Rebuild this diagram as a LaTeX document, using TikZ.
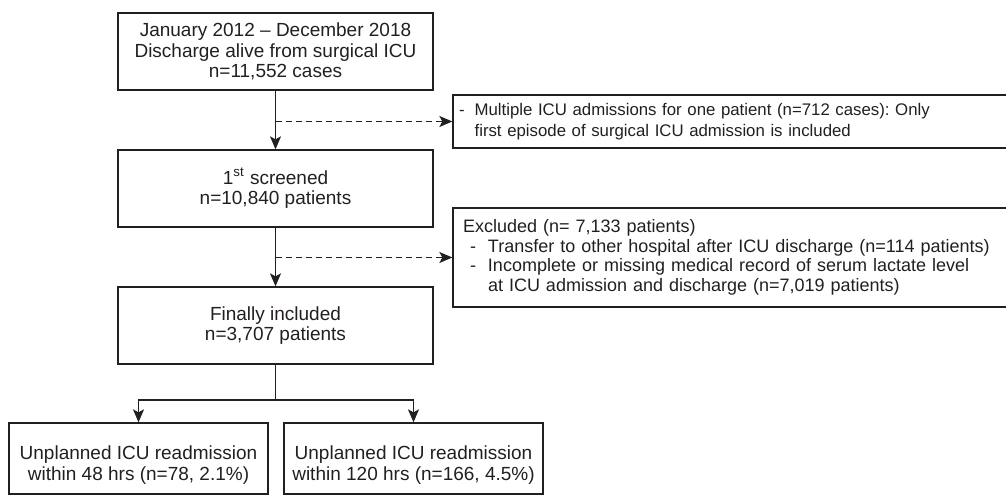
\documentclass[tikz,border=0pt]{standalone}
\usepackage{fontspec}
\setmainfont{Liberation Sans}
\usetikzlibrary{arrows.meta}
\definecolor{inkgray}{HTML}{231F20}
\frenchspacing
\begin{document}
\begin{tikzpicture}[x=0.5pt, y=-0.5pt,
        box/.style={draw=inkgray, line width=0.65pt, text=inkgray, font=\fontsize{9.5}{10.25}\selectfont, align=center, inner sep=0pt},
        sidebox/.style={box, align=left, inner xsep=3pt, text width=272.5pt, font=\fontsize{9}{9.75}\selectfont},
        link/.style={draw=inkgray, line width=0.65pt},
        arr/.style={link, -{Stealth[length=6.5pt, width=5.5pt, inset=1.5pt]}},
        dasharr/.style={arr, dash pattern=on 3pt off 2pt}]
    \useasboundingbox ( 0, 0 ) rectangle ( 1006, 496 );

    % основные блоки
    \node [box, minimum width=157.5pt, minimum height=38.5pt] (start) at ( 275.5, 51.5 )
        {January 2012 -- December 2018\\Discharge alive from surgical ICU\\n=11,552 cases};
    \node [box, minimum width=157.5pt, minimum height=38.5pt] (screen) at ( 275.5, 188.5 )
        {1\textsuperscript{st} screened\\n=10,840 patients};
    \node [box, minimum width=157.5pt, minimum height=38.5pt] (final) at ( 275.5, 325.5 )
        {Finally included\\n=3,707 patients};

    % исключения
    \node [sidebox, minimum height=26.5pt, font=\fontsize{8.4}{10.25}\selectfont] (multi) at ( 731.5, 121.5 )
        {-\hspace{5pt}Multiple ICU admissions for one patient (n=712 cases): Only\\
         \phantom{-}\hspace{5pt}first episode of surgical ICU admission is included};
    \node [sidebox, minimum height=49.5pt] (excl) at ( 731.5, 257.5 )
        {\hspace*{2pt}Excluded (n= 7,133 patients)\\
         \hspace*{5.5pt}-\hspace{6pt}Transfer to other hospital after ICU discharge (n=114 patients)\\
         \hspace*{5.5pt}-\hspace{6pt}Incomplete or missing medical record of serum lactate level\\
         \hspace*{5.5pt}\phantom{-}\hspace{6pt}at ICU admission and discharge (n=7,019 patients)};

    % повторная госпитализация
    \node [box, minimum width=129.5pt, minimum height=35.5pt] (r48) at ( 138.5, 458.5 )
        {\rule{0pt}{13.5pt}Unplanned ICU readmission\\within 48 hrs (n=78, 2.1\%)};
    \node [box, minimum width=129.5pt, minimum height=35.5pt] (r120) at ( 413.5, 458.5 )
        {\rule{0pt}{13.5pt}Unplanned ICU readmission\\within 120 hrs (n=166, 4.5\%)};

    % стрелки
    \draw [arr] (start) -- (screen);
    \draw [arr] (screen) -- (final);
    \coordinate (j1) at (start.south |- multi.west);
    \coordinate (j2) at (screen.south |- excl.west);
    \draw [dasharr] (j1) -- (multi.west);
    \draw [dasharr] (j2) -- (excl.west);

    \coordinate (split) at ( 275.5, 400 );
    \draw [link] (final) -- (split);
    \draw [arr] (split) -| (r48.north);
    \draw [arr] (split) -| (r120.north);
\end{tikzpicture}
\end{document}
